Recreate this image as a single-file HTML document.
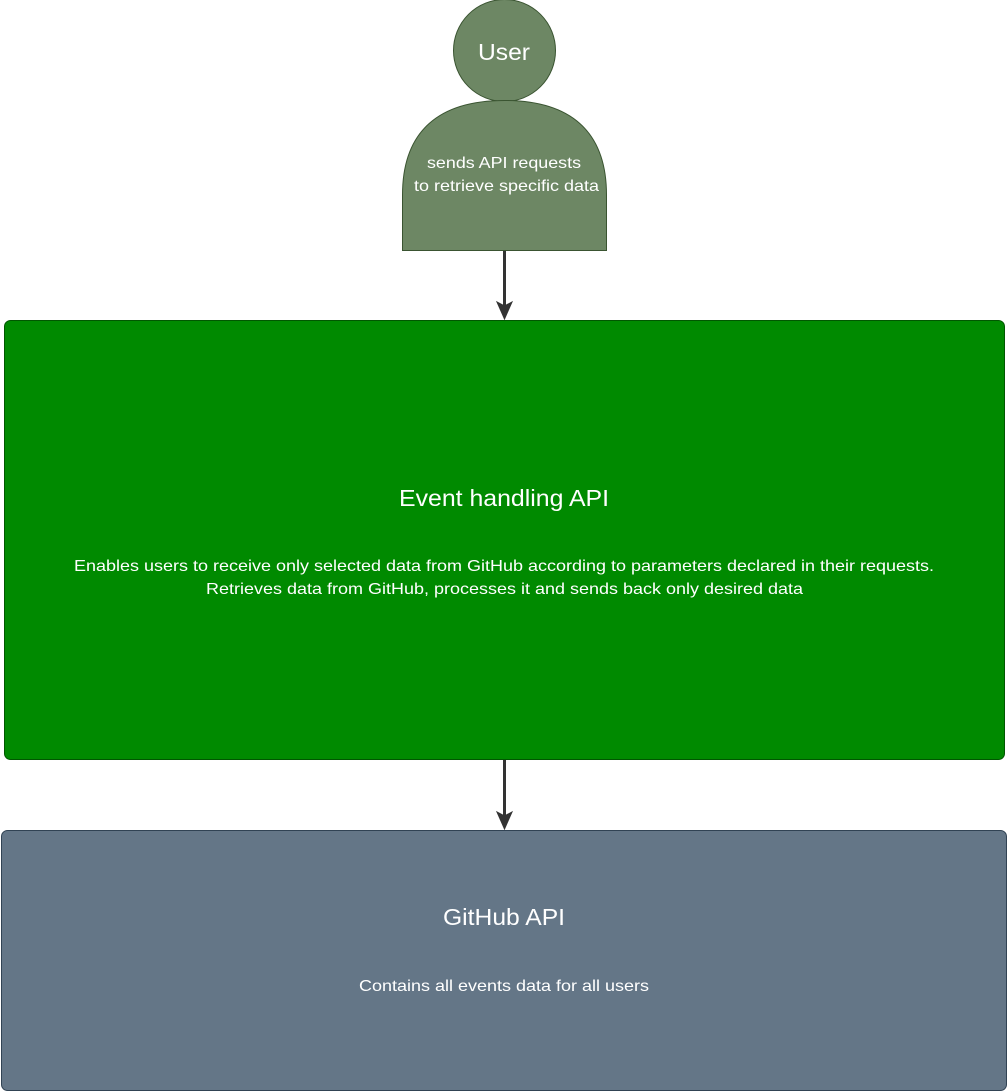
<!DOCTYPE html>
<html><head><style>
html,body{margin:0;padding:0;background:#fff;}
svg{display:block;}
text{font-family:"Liberation Sans",Arial,sans-serif;fill:#fff;}
</style></head><body>
<svg width="1008" height="1092" viewBox="0 0 1008 1092" xmlns="http://www.w3.org/2000/svg">
<circle cx="504.5" cy="50.5" r="51" fill="#6d8764" stroke="#3a5431" stroke-width="1"/>
<path d="M402.5,250.5 L402.5,195 C402.5,130 440,100.5 504.5,100.5 C569,100.5 606.5,130 606.5,195 L606.5,250.5 Z" fill="#6d8764" stroke="#3a5431" stroke-width="1"/>
<text x="478" y="60" font-size="23" textLength="52" lengthAdjust="spacingAndGlyphs">User</text>
<text x="427" y="168" font-size="16" textLength="154" lengthAdjust="spacingAndGlyphs">sends API requests</text>
<text x="414" y="191" font-size="16" textLength="185" lengthAdjust="spacingAndGlyphs">to retrieve specific data</text>
<line x1="504.5" y1="251" x2="504.5" y2="308" stroke="#333" stroke-width="3"/>
<path d="M497,302 L504.5,319 L512,302 L504.5,306 Z" fill="#333" stroke="#333" stroke-width="1"/>
<rect x="4.5" y="320.5" width="1000" height="439" rx="6" fill="#008a00" stroke="#005700" stroke-width="1"/>
<text x="399" y="506" font-size="23" textLength="210" lengthAdjust="spacingAndGlyphs">Event handling API</text>
<text x="74" y="571" font-size="16" textLength="860" lengthAdjust="spacingAndGlyphs">Enables users to receive only selected data from GitHub according to parameters declared in their requests.</text>
<text x="206" y="594" font-size="16" textLength="597" lengthAdjust="spacingAndGlyphs">Retrieves data from GitHub, processes it and sends back only desired data</text>
<line x1="504.5" y1="760" x2="504.5" y2="818" stroke="#333" stroke-width="3"/>
<path d="M497,812 L504.5,829 L512,812 L504.5,816 Z" fill="#333" stroke="#333" stroke-width="1"/>
<rect x="1.5" y="830.5" width="1005" height="260" rx="6" fill="#647687" stroke="#314354" stroke-width="1"/>
<text x="443" y="925" font-size="23" textLength="122" lengthAdjust="spacingAndGlyphs">GitHub API</text>
<text x="359" y="991" font-size="16" textLength="290" lengthAdjust="spacingAndGlyphs">Contains all events data for all users</text>
</svg>
</body></html>
